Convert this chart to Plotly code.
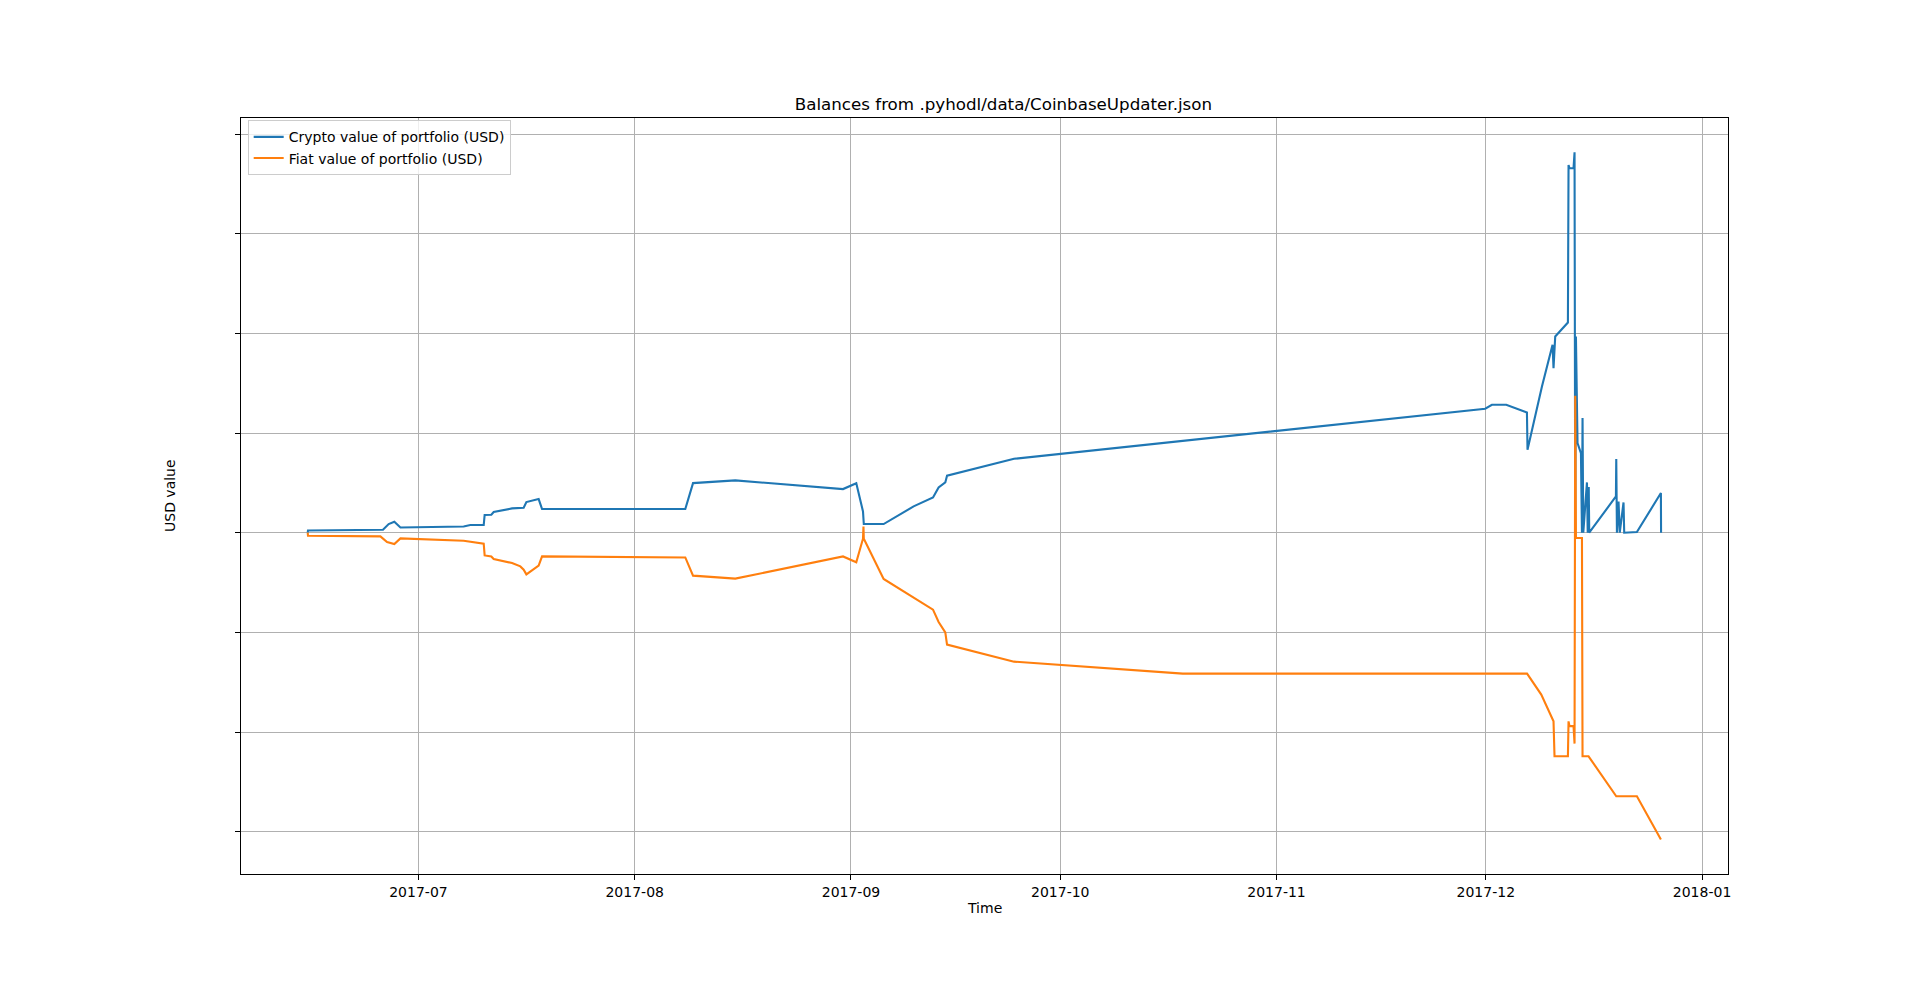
import plotly.graph_objects as go

# ---- data ----
crypto_time = [
    "2017-06-15 03:00", "2017-06-15 04:00", "2017-06-25 22:00", "2017-06-26 17:30",
    "2017-06-27 13:00", "2017-06-28 10:00", "2017-07-07 11:30", "2017-07-08 10:30",
    "2017-07-10 08:30", "2017-07-10 11:45", "2017-07-11 10:45", "2017-07-11 18:45",
    "2017-07-14 10:00", "2017-07-15 14:30", "2017-07-16 02:00", "2017-07-16 11:15",
    "2017-07-18 05:30", "2017-07-18 17:15", "2017-08-08 06:00", "2017-08-09 08:40",
    "2017-08-15 10:00", "2017-08-30 20:40", "2017-09-01 18:15", "2017-09-02 17:20",
    "2017-09-02 20:10", "2017-09-05 16:20", "2017-09-09 23:30", "2017-09-12 18:15",
    "2017-09-13 13:30", "2017-09-14 12:30", "2017-09-14 18:30", "2017-09-24 09:00",
    "2017-11-30 22:00", "2017-12-01 21:00", "2017-12-03 22:20", "2017-12-06 21:30",
    "2017-12-06 23:30", "2017-12-09 01:10", "2017-12-10 13:40", "2017-12-10 17:00",
    "2017-12-10 22:50", "2017-12-12 18:30", "2017-12-12 20:40", "2017-12-13 00:00",
    "2017-12-13 13:50", "2017-12-13 17:20", "2017-12-13 19:40", "2017-12-13 22:05",
    "2017-12-14 03:35", "2017-12-14 15:20", "2017-12-14 18:50", "2017-12-14 20:50",
    "2017-12-14 23:20", "2017-12-15 12:00", "2017-12-15 14:40", "2017-12-15 18:10",
    "2017-12-15 19:50", "2017-12-19 15:40", "2017-12-19 16:50", "2017-12-19 19:10",
    "2017-12-20 00:40", "2017-12-20 04:50", "2017-12-20 17:50", "2017-12-20 20:10",
    "2017-12-22 15:50", "2017-12-26 02:25", "2017-12-26 03:00",
]
crypto_usd = [
    0, 23, 30, 87,
    110, 53, 63, 77,
    77, 178, 181, 208,
    244, 244, 251, 308,
    338, 238, 238, 498,
    525, 438, 496, 214,
    87, 87, 264, 354,
    454, 505, 572, 742,
    1244, 1284, 1284, 1207,
    832, 1467, 1886, 1652,
    1969, 2109, 3691, 3658,
    3658, 3818, -30, 1969,
    900, 799, 0, 1150,
    0, 505, 0, 458,
    0, 364, 739, 0,
    314, 0, 304, 0,
    7, 398, 0,
]

fiat_time = [
    "2017-06-15 03:00", "2017-06-15 04:00", "2017-06-25 13:00", "2017-06-26 12:00",
    "2017-06-27 13:00", "2017-06-28 10:00", "2017-07-07 11:30", "2017-07-10 08:30",
    "2017-07-10 11:45", "2017-07-11 10:45", "2017-07-11 18:45", "2017-07-14 10:00",
    "2017-07-15 14:30", "2017-07-16 02:00", "2017-07-16 11:15", "2017-07-18 05:30",
    "2017-07-18 17:15", "2017-08-08 06:00", "2017-08-09 08:40", "2017-08-15 10:00",
    "2017-08-30 20:40", "2017-09-01 18:15", "2017-09-02 17:20", "2017-09-02 19:00",
    "2017-09-02 20:10", "2017-09-05 16:20", "2017-09-12 18:15", "2017-09-13 13:30",
    "2017-09-14 12:30", "2017-09-14 18:30", "2017-09-24 09:00", "2017-10-18 13:30",
    "2017-12-06 22:00", "2017-12-08 22:50", "2017-12-10 17:00", "2017-12-10 20:25",
    "2017-12-12 18:30", "2017-12-12 20:40", "2017-12-13 00:00", "2017-12-13 13:50",
    "2017-12-13 17:20", "2017-12-13 19:40", "2017-12-13 22:05", "2017-12-14 18:50",
    "2017-12-14 20:50", "2017-12-15 17:30", "2017-12-19 16:50", "2017-12-22 15:50",
    "2017-12-26 02:25",
]
fiat_usd = [
    0, -30, -37, -93,
    -113, -57, -80, -110,
    -228, -238, -264, -304,
    -338, -371, -418, -331,
    -238, -248, -431, -461,
    -238, -296, -60, 63,
    -60, -464, -772, -896,
    -1000, -1123, -1294, -1414,
    -1414, -1625, -1893, -2244,
    -2244, -1893, -1941, -1941,
    -2116, 1374, -53, -53,
    -2244, -2244, -2645, -2645,
    -3079,
]

x_tick_vals = ["2017-07-01", "2017-08-01", "2017-09-01", "2017-10-01",
               "2017-11-01", "2017-12-01", "2018-01-01"]
x_tick_text = ["2017-07", "2017-08", "2017-09", "2017-10",
               "2017-11", "2017-12", "2018-01"]
y_tick_vals = [-3000, -2000, -1000, 0, 1000, 2000, 3000, 4000]

title_text = "Balances from .pyhodl/data/CoinbaseUpdater.json"
crypto_name = "Crypto value of portfolio (USD)"
fiat_name = "Fiat value of portfolio (USD)"

FONT = "DejaVu Sans, Verdana, sans-serif"

fig = go.Figure()
fig.add_trace(go.Scatter(x=crypto_time, y=crypto_usd, mode="lines", name=crypto_name,
                         line=dict(color="#1f77b4", width=2.1)))
fig.add_trace(go.Scatter(x=fiat_time, y=fiat_usd, mode="lines", name=fiat_name,
                         line=dict(color="#ff7f0e", width=2.1)))

axis_common = dict(
    showgrid=True, gridcolor="#b0b0b0", gridwidth=1.1,
    showline=True, linecolor="black", linewidth=1.1, mirror=True,
    ticks="outside", ticklen=5, tickwidth=1.1, tickcolor="black",
    zeroline=False,
    tickfont=dict(family=FONT, size=14, color="black"),
)

fig.update_layout(
    width=1920, height=982,
    margin=dict(l=241, r=192, t=118, b=107.5, pad=0),
    paper_bgcolor="white", plot_bgcolor="white",
    font=dict(family=FONT, size=14, color="black"),
    title=dict(text=title_text, x=0.5127,
               xref="paper", xanchor="center", y=1 - 104 / 982, yref="container",
               yanchor="middle", font=dict(family=FONT, size=16.7, color="black")),
    xaxis=dict(axis_common, type="date", range=["2017-06-05 13:30", "2018-01-04 17:15"],
               tickvals=x_tick_vals, ticktext=x_tick_text),
    yaxis=dict(axis_common, range=[-3425, 4162], tickvals=y_tick_vals, showticklabels=False),
    showlegend=True,
    legend=dict(x=0.0045, y=0.997, xanchor="left", yanchor="top",
                bgcolor="rgba(255,255,255,0.8)", bordercolor="#cccccc", borderwidth=1,
                font=dict(family=FONT, size=14, color="black"), itemwidth=30,
                tracegroupgap=0),
    annotations=[
        dict(text="Time", x=0.5, y=-(908.6 - 874.5) / 756.5, xref="paper", yref="paper",
             xanchor="center", yanchor="middle", showarrow=False,
             font=dict(family=FONT, size=14, color="black")),
        dict(text="USD value", x=-(241 - 170) / 1487, y=0.5, xref="paper", yref="paper",
             xanchor="center", yanchor="middle", showarrow=False, textangle=-90,
             font=dict(family=FONT, size=14, color="black")),
    ],
)

fig.write_html("out.html", config={"displayModeBar": False},
               post_script="document.body.style.margin='0';")
